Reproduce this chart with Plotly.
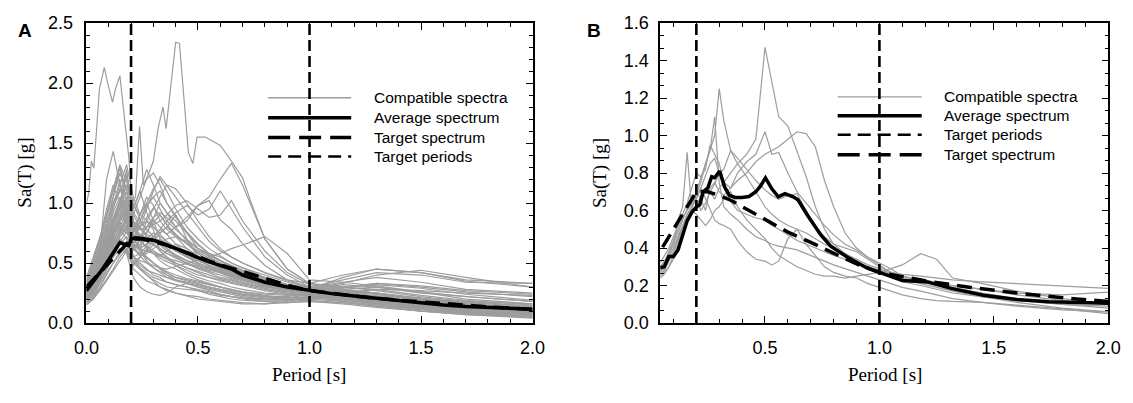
import plotly.graph_objects as go

# ---------------- panel A: compatible spectra on a common period grid
period_a = [0.0, 0.03, 0.06, 0.09, 0.12, 0.15, 0.18, 0.21, 0.24, 0.27, 0.30, 0.33, 0.36, 0.40,
            0.45, 0.50, 0.55, 0.60, 0.65, 0.70, 0.80, 0.90, 1.00, 1.15, 1.30, 1.50, 1.70, 2.00]

sa_a01 = [0.30, 0.38, 0.52, 0.80, 1.05, 1.30, 1.10, 0.75, 0.90, 1.00, 0.85, 0.70, 0.62, 0.55, 0.50, 0.45, 0.42, 0.38, 0.36, 0.33, 0.30, 0.27, 0.25, 0.20, 0.17, 0.13, 0.10, 0.08]
sa_a02 = [0.22, 0.35, 0.60, 1.20, 1.43, 1.15, 0.95, 0.60, 0.70, 0.85, 0.78, 0.60, 0.55, 0.48, 0.42, 0.38, 0.35, 0.33, 0.30, 0.28, 0.25, 0.24, 0.23, 0.18, 0.15, 0.12, 0.09, 0.07]
sa_a03 = [0.28, 0.40, 0.55, 0.70, 0.85, 0.95, 1.25, 0.90, 1.05, 1.20, 1.25, 1.15, 1.00, 0.90, 0.75, 0.62, 0.55, 0.50, 0.45, 0.40, 0.33, 0.29, 0.27, 0.24, 0.20, 0.16, 0.13, 0.10]
sa_a04 = [0.20, 0.25, 0.38, 0.48, 0.60, 0.72, 0.80, 0.55, 0.50, 0.45, 0.40, 0.38, 0.34, 0.32, 0.30, 0.27, 0.24, 0.22, 0.20, 0.19, 0.18, 0.17, 0.18, 0.17, 0.14, 0.10, 0.08, 0.05]
sa_a05 = [0.32, 0.45, 0.65, 0.90, 1.10, 1.30, 1.00, 0.70, 0.80, 0.95, 1.10, 1.22, 1.15, 1.05, 0.92, 0.80, 0.68, 0.60, 0.55, 0.50, 0.42, 0.36, 0.33, 0.28, 0.25, 0.20, 0.17, 0.14]
sa_a06 = [0.18, 0.22, 0.30, 0.42, 0.50, 0.58, 0.65, 0.45, 0.40, 0.35, 0.33, 0.30, 0.28, 0.25, 0.23, 0.22, 0.20, 0.19, 0.18, 0.17, 0.16, 0.17, 0.20, 0.22, 0.18, 0.13, 0.09, 0.06]
sa_a07 = [0.35, 0.50, 0.70, 0.95, 1.15, 1.00, 0.85, 0.95, 1.10, 0.92, 0.80, 0.75, 0.80, 0.90, 0.70, 0.55, 0.48, 0.42, 0.38, 0.35, 0.30, 0.28, 0.28, 0.32, 0.30, 0.25, 0.22, 0.18]
sa_a08 = [0.26, 0.33, 0.48, 0.62, 0.75, 0.90, 1.05, 0.85, 0.70, 0.62, 0.58, 0.52, 0.48, 0.45, 0.40, 0.36, 0.33, 0.30, 0.27, 0.25, 0.22, 0.21, 0.24, 0.28, 0.30, 0.26, 0.20, 0.16]
sa_a09 = [0.24, 0.30, 0.40, 0.55, 0.68, 0.80, 0.75, 0.70, 0.85, 0.98, 1.05, 0.95, 0.85, 0.78, 0.70, 0.62, 0.58, 0.55, 0.50, 0.46, 0.40, 0.34, 0.30, 0.36, 0.42, 0.40, 0.34, 0.33]
sa_a10 = [0.30, 0.42, 0.58, 0.75, 0.92, 1.05, 0.90, 0.65, 0.60, 0.55, 0.50, 0.45, 0.40, 0.36, 0.33, 0.30, 0.28, 0.26, 0.24, 0.22, 0.20, 0.19, 0.20, 0.18, 0.15, 0.11, 0.08, 0.06]
sa_a11 = [0.15, 0.20, 0.28, 0.36, 0.45, 0.55, 0.62, 0.50, 0.45, 0.40, 0.35, 0.30, 0.27, 0.25, 0.22, 0.20, 0.19, 0.18, 0.17, 0.16, 0.16, 0.18, 0.22, 0.20, 0.16, 0.12, 0.08, 0.05]
sa_a12 = [0.33, 0.48, 0.62, 0.85, 1.00, 1.15, 1.32, 1.05, 0.90, 1.00, 1.12, 1.20, 1.10, 0.95, 0.80, 0.70, 0.62, 0.56, 0.50, 0.46, 0.38, 0.32, 0.30, 0.34, 0.38, 0.34, 0.28, 0.25]
sa_a13 = [0.22, 0.28, 0.42, 0.55, 0.70, 0.68, 0.60, 0.50, 0.55, 0.60, 0.65, 0.70, 0.66, 0.60, 0.55, 0.50, 0.46, 0.42, 0.40, 0.37, 0.31, 0.27, 0.26, 0.24, 0.21, 0.17, 0.14, 0.11]
sa_a14 = [0.28, 0.38, 0.50, 0.72, 0.95, 1.20, 0.85, 0.55, 0.45, 0.40, 0.36, 0.33, 0.30, 0.29, 0.28, 0.27, 0.25, 0.23, 0.22, 0.21, 0.20, 0.20, 0.21, 0.19, 0.16, 0.12, 0.09, 0.07]
sa_a15 = [0.20, 0.27, 0.36, 0.50, 0.62, 0.75, 0.85, 0.70, 0.62, 0.75, 0.88, 1.00, 0.92, 0.80, 0.68, 0.58, 0.52, 0.48, 0.44, 0.41, 0.36, 0.31, 0.28, 0.30, 0.33, 0.30, 0.26, 0.22]
sa_a16 = [0.38, 0.55, 0.72, 0.88, 1.05, 1.25, 1.10, 0.80, 0.72, 0.68, 0.65, 0.62, 0.58, 0.55, 0.50, 0.47, 0.45, 0.43, 0.40, 0.38, 0.33, 0.29, 0.27, 0.25, 0.22, 0.18, 0.15, 0.12]
sa_a17 = [0.19, 0.24, 0.34, 0.45, 0.56, 0.66, 0.72, 0.62, 0.58, 0.54, 0.50, 0.46, 0.43, 0.40, 0.37, 0.35, 0.32, 0.30, 0.28, 0.26, 0.24, 0.23, 0.24, 0.23, 0.20, 0.15, 0.11, 0.08]
sa_a18 = [0.27, 0.36, 0.48, 0.62, 0.78, 0.88, 0.95, 0.80, 0.78, 0.80, 0.82, 0.85, 0.90, 0.98, 1.02, 0.95, 0.88, 0.90, 1.02, 0.85, 0.60, 0.42, 0.32, 0.30, 0.28, 0.23, 0.19, 0.15]
sa_a19 = [0.31, 0.44, 0.60, 0.78, 0.88, 0.95, 0.82, 0.62, 0.70, 0.80, 0.88, 0.92, 0.88, 0.80, 0.85, 0.98, 1.05, 1.20, 1.33, 1.15, 0.70, 0.45, 0.33, 0.30, 0.27, 0.22, 0.18, 0.14]
sa_a20 = [0.24, 0.32, 0.45, 0.58, 0.72, 0.82, 0.78, 0.65, 0.62, 0.66, 0.72, 0.78, 0.85, 0.92, 0.98, 0.90, 0.95, 1.10, 0.95, 0.80, 0.55, 0.40, 0.30, 0.28, 0.25, 0.20, 0.16, 0.12]
sa_a21 = [0.26, 0.34, 0.45, 0.58, 0.70, 0.78, 0.70, 0.55, 0.52, 0.50, 0.48, 0.46, 0.45, 0.47, 0.50, 0.52, 0.55, 0.58, 0.62, 0.65, 0.72, 0.58, 0.36, 0.34, 0.31, 0.26, 0.22, 0.18]
sa_a22 = [0.17, 0.21, 0.30, 0.40, 0.50, 0.60, 0.68, 0.55, 0.48, 0.44, 0.42, 0.40, 0.38, 0.35, 0.33, 0.31, 0.29, 0.27, 0.25, 0.23, 0.21, 0.20, 0.19, 0.17, 0.14, 0.10, 0.07, 0.04]
sa_a23 = [0.29, 0.40, 0.55, 0.70, 0.85, 1.00, 1.15, 0.95, 1.10, 1.28, 1.15, 1.00, 0.92, 0.85, 0.75, 0.65, 0.58, 0.52, 0.47, 0.43, 0.37, 0.32, 0.29, 0.33, 0.40, 0.44, 0.38, 0.30]
sa_a24 = [0.21, 0.26, 0.38, 0.50, 0.64, 0.76, 0.88, 0.72, 0.60, 0.52, 0.46, 0.42, 0.38, 0.36, 0.34, 0.32, 0.30, 0.28, 0.26, 0.24, 0.22, 0.21, 0.22, 0.25, 0.28, 0.27, 0.25, 0.23]
sa_a25 = [0.34, 0.48, 0.66, 0.82, 0.98, 1.12, 0.95, 0.75, 0.85, 0.98, 1.05, 1.10, 1.00, 0.88, 0.76, 0.66, 0.58, 0.52, 0.47, 0.42, 0.35, 0.30, 0.27, 0.25, 0.21, 0.16, 0.12, 0.09]
sa_a26 = [0.23, 0.29, 0.40, 0.52, 0.62, 0.70, 0.58, 0.38, 0.30, 0.26, 0.24, 0.23, 0.25, 0.30, 0.33, 0.30, 0.27, 0.24, 0.22, 0.20, 0.18, 0.17, 0.18, 0.16, 0.13, 0.10, 0.07, 0.05]
sa_a27 = [0.27, 0.35, 0.46, 0.60, 0.74, 0.85, 0.92, 0.78, 0.90, 1.05, 0.98, 0.85, 0.78, 0.72, 0.66, 0.60, 0.56, 0.52, 0.48, 0.44, 0.38, 0.32, 0.28, 0.38, 0.45, 0.42, 0.35, 0.30]
sa_a28 = [0.25, 0.31, 0.42, 0.55, 0.66, 0.74, 0.82, 0.68, 0.65, 0.70, 0.75, 0.72, 0.68, 0.62, 0.56, 0.50, 0.46, 0.42, 0.39, 0.36, 0.31, 0.27, 0.25, 0.23, 0.19, 0.15, 0.12, 0.09]
sa_a29 = [0.16, 0.20, 0.27, 0.35, 0.44, 0.52, 0.60, 0.52, 0.46, 0.42, 0.38, 0.36, 0.34, 0.32, 0.30, 0.28, 0.26, 0.24, 0.22, 0.21, 0.19, 0.19, 0.21, 0.22, 0.20, 0.16, 0.12, 0.09]
sa_a30 = [0.30, 0.40, 0.55, 0.68, 0.82, 0.95, 1.02, 0.85, 0.80, 0.85, 0.95, 1.05, 1.15, 1.12, 1.00, 0.85, 0.72, 0.62, 0.55, 0.50, 0.42, 0.35, 0.30, 0.26, 0.22, 0.17, 0.13, 0.10]
sa_a31 = [0.22, 0.30, 0.42, 0.56, 0.80, 1.00, 1.28, 0.85, 0.62, 0.55, 0.50, 0.46, 0.42, 0.38, 0.35, 0.33, 0.30, 0.28, 0.26, 0.24, 0.22, 0.22, 0.25, 0.27, 0.25, 0.20, 0.16, 0.13]
sa_a32 = [0.28, 0.37, 0.50, 0.66, 0.80, 0.92, 0.86, 0.72, 0.68, 0.64, 0.60, 0.56, 0.60, 0.66, 0.62, 0.56, 0.50, 0.46, 0.42, 0.38, 0.32, 0.28, 0.26, 0.24, 0.20, 0.16, 0.13, 0.10]
sa_a33 = [0.20, 0.25, 0.35, 0.45, 0.55, 0.62, 0.58, 0.48, 0.55, 0.62, 0.68, 0.75, 0.80, 0.74, 0.66, 0.58, 0.52, 0.47, 0.43, 0.40, 0.34, 0.29, 0.26, 0.22, 0.18, 0.14, 0.11, 0.08]
sa_a34 = [0.36, 0.52, 0.70, 0.92, 1.12, 1.32, 1.18, 0.90, 0.80, 0.72, 0.66, 0.60, 0.55, 0.50, 0.46, 0.42, 0.38, 0.35, 0.33, 0.31, 0.27, 0.24, 0.22, 0.20, 0.17, 0.13, 0.10, 0.08]
sa_a35 = [0.26, 0.36, 0.50, 0.68, 0.86, 1.02, 0.90, 0.66, 0.72, 0.80, 0.86, 0.80, 0.74, 0.80, 0.88, 0.98, 1.02, 0.86, 0.78, 0.66, 0.48, 0.36, 0.30, 0.27, 0.24, 0.19, 0.15, 0.11]
sa_a36 = [0.23, 0.31, 0.44, 0.60, 0.76, 0.88, 1.00, 0.78, 0.70, 0.76, 0.84, 0.90, 0.82, 0.72, 0.62, 0.54, 0.48, 0.44, 0.40, 0.37, 0.32, 0.28, 0.26, 0.29, 0.33, 0.31, 0.27, 0.24]
sa_a37 = [0.21, 0.28, 0.40, 0.52, 0.66, 0.80, 0.92, 0.80, 0.74, 0.70, 0.66, 0.62, 0.58, 0.54, 0.50, 0.46, 0.43, 0.40, 0.37, 0.34, 0.29, 0.25, 0.23, 0.21, 0.18, 0.14, 0.11, 0.08]
sa_a38 = [0.25, 0.34, 0.48, 0.64, 0.80, 0.96, 1.10, 0.92, 0.84, 0.78, 0.72, 0.68, 0.64, 0.60, 0.55, 0.50, 0.46, 0.43, 0.40, 0.37, 0.31, 0.27, 0.25, 0.23, 0.20, 0.16, 0.13, 0.10]
sa_a39 = [0.19, 0.26, 0.38, 0.50, 0.62, 0.72, 0.78, 0.66, 0.62, 0.66, 0.70, 0.66, 0.62, 0.57, 0.52, 0.48, 0.45, 0.42, 0.39, 0.36, 0.32, 0.28, 0.26, 0.26, 0.24, 0.20, 0.16, 0.12]
sa_a40 = [0.31, 0.42, 0.56, 0.72, 0.88, 1.02, 1.15, 0.98, 0.90, 0.86, 0.80, 0.74, 0.68, 0.62, 0.56, 0.52, 0.48, 0.44, 0.41, 0.38, 0.33, 0.29, 0.27, 0.24, 0.21, 0.17, 0.14, 0.11]
sa_a41 = [0.24, 0.32, 0.44, 0.58, 0.72, 0.84, 0.80, 0.62, 0.56, 0.58, 0.62, 0.66, 0.70, 0.72, 0.68, 0.62, 0.57, 0.52, 0.48, 0.44, 0.37, 0.31, 0.28, 0.27, 0.25, 0.21, 0.17, 0.14]
sa_a42 = [0.17, 0.23, 0.33, 0.44, 0.56, 0.68, 0.76, 0.64, 0.56, 0.50, 0.46, 0.43, 0.40, 0.38, 0.36, 0.34, 0.32, 0.30, 0.28, 0.26, 0.23, 0.21, 0.21, 0.20, 0.17, 0.13, 0.10, 0.07]
sa_a43 = [0.29, 0.38, 0.52, 0.68, 0.84, 1.00, 0.94, 0.76, 0.80, 0.88, 0.96, 0.90, 0.82, 0.74, 0.66, 0.59, 0.54, 0.50, 0.46, 0.42, 0.36, 0.31, 0.28, 0.30, 0.32, 0.29, 0.24, 0.19]
sa_a44 = [0.22, 0.29, 0.40, 0.54, 0.68, 0.78, 0.86, 0.74, 0.68, 0.64, 0.60, 0.57, 0.54, 0.52, 0.49, 0.46, 0.44, 0.42, 0.40, 0.38, 0.34, 0.30, 0.27, 0.24, 0.20, 0.16, 0.12, 0.09]
sa_a45 = [0.27, 0.36, 0.50, 0.65, 0.78, 0.88, 0.82, 0.66, 0.62, 0.60, 0.58, 0.56, 0.53, 0.50, 0.46, 0.43, 0.40, 0.37, 0.35, 0.33, 0.29, 0.26, 0.24, 0.22, 0.19, 0.15, 0.12, 0.10]
sa_a46 = [0.33, 0.46, 0.62, 0.80, 0.96, 1.10, 1.22, 1.00, 0.86, 0.78, 0.72, 0.68, 0.66, 0.64, 0.60, 0.55, 0.50, 0.46, 0.42, 0.39, 0.34, 0.30, 0.28, 0.27, 0.24, 0.19, 0.15, 0.12]
sa_a47 = [0.20, 0.26, 0.36, 0.48, 0.60, 0.70, 0.66, 0.55, 0.58, 0.64, 0.72, 0.78, 0.74, 0.66, 0.58, 0.52, 0.48, 0.45, 0.42, 0.39, 0.33, 0.28, 0.25, 0.22, 0.18, 0.14, 0.11, 0.09]
sa_a48 = [0.26, 0.34, 0.46, 0.60, 0.74, 0.86, 0.96, 0.84, 0.78, 0.74, 0.70, 0.65, 0.60, 0.56, 0.52, 0.49, 0.47, 0.45, 0.42, 0.40, 0.35, 0.30, 0.27, 0.25, 0.23, 0.20, 0.18, 0.16]

compatible_a = [sa_a01, sa_a02, sa_a03, sa_a04, sa_a05, sa_a06, sa_a07, sa_a08, sa_a09,
                sa_a10, sa_a11, sa_a12, sa_a13, sa_a14, sa_a15, sa_a16, sa_a17, sa_a18,
                sa_a19, sa_a20, sa_a21, sa_a22, sa_a23, sa_a24, sa_a25, sa_a26, sa_a27,
                sa_a28, sa_a29, sa_a30, sa_a31, sa_a32, sa_a33, sa_a34, sa_a35, sa_a36,
                sa_a37, sa_a38, sa_a39, sa_a40, sa_a41, sa_a42, sa_a43, sa_a44, sa_a45,
                sa_a46, sa_a47, sa_a48]

# two outlier records with their own (finer) period sampling
period_h1 = [0.0, 0.01, 0.022, 0.033, 0.045, 0.058, 0.07, 0.08, 0.095, 0.117, 0.13, 0.15, 0.165,
             0.19, 0.21, 0.24, 0.27, 0.30, 0.35, 0.40, 0.45, 0.50, 0.60, 0.70, 0.80, 0.90, 1.00,
             1.20, 1.40, 1.60, 1.80, 2.00]
sa_h1 = [1.00, 1.08, 1.35, 1.29, 1.60, 1.95, 2.05, 2.13, 2.00, 1.84, 1.95, 2.06, 1.80,
         1.38, 0.85, 0.70, 0.62, 0.58, 0.52, 0.48, 0.44, 0.40, 0.36, 0.32, 0.28, 0.25, 0.23,
         0.20, 0.17, 0.14, 0.11, 0.09]
period_h2 = [0.0, 0.05, 0.10, 0.15, 0.20, 0.22, 0.238, 0.255, 0.28, 0.30, 0.321, 0.343, 0.357,
             0.38, 0.40, 0.417, 0.44, 0.457, 0.477, 0.496, 0.533, 0.60, 0.65, 0.70, 0.737, 0.80,
             0.90, 1.00, 1.15, 1.30, 1.50, 1.70, 2.00]
sa_h2 = [0.30, 0.42, 0.62, 0.85, 1.00, 1.05, 1.64, 1.15, 1.25, 1.35, 1.62, 1.80, 1.62,
         2.00, 2.34, 2.33, 1.80, 1.42, 1.33, 1.55, 1.55, 1.48, 1.35, 1.21, 1.01, 0.70,
         0.45, 0.33, 0.40, 0.45, 0.42, 0.36, 0.33]

period_avg_a = [0.0, 0.03, 0.06, 0.09, 0.12, 0.15, 0.17, 0.19, 0.20, 0.22, 0.25, 0.30, 0.35, 0.40,
                0.45, 0.50, 0.55, 0.60, 0.65, 0.70, 0.75, 0.80, 0.90, 1.00, 1.10, 1.20, 1.30,
                1.40, 1.50, 1.60, 1.70, 1.80, 1.90, 2.00]
sa_avg_a = [0.27, 0.34, 0.42, 0.50, 0.59, 0.67, 0.655, 0.645, 0.70, 0.71, 0.705, 0.69, 0.66, 0.62,
            0.58, 0.545, 0.51, 0.48, 0.45, 0.40, 0.37, 0.34, 0.30, 0.27, 0.245, 0.225, 0.205,
            0.185, 0.165, 0.15, 0.137, 0.128, 0.12, 0.115]

period_target = [0.0, 0.05, 0.10, 0.15, 0.20, 0.25, 0.30, 0.35, 0.40, 0.50, 0.60, 0.70, 0.80,
                 0.90, 1.00, 1.20, 1.40, 1.60, 1.80, 2.00]
sa_target = [0.30, 0.40, 0.50, 0.60, 0.70, 0.70, 0.68, 0.655, 0.62, 0.55, 0.485, 0.43, 0.37,
             0.315, 0.27, 0.225, 0.19, 0.16, 0.135, 0.115]

target_periods = [0.2, 1.0]

# ---------------- panel B: 9 compatible spectra
period_b = [0.042, 0.06, 0.08, 0.10, 0.12, 0.14, 0.16, 0.18, 0.20, 0.22, 0.24, 0.26, 0.28, 0.30,
            0.32, 0.35, 0.38, 0.42, 0.46, 0.50, 0.53, 0.56, 0.60, 0.64, 0.68, 0.72, 0.76, 0.80,
            0.85, 0.90, 0.95, 1.00, 1.05, 1.10, 1.18, 1.25, 1.32, 1.45, 1.60, 1.80, 2.00]

sa_b1 = [0.30, 0.32, 0.38, 0.42, 0.48, 0.55, 0.62, 0.68, 0.66, 0.60, 0.64, 0.70, 0.66, 0.72, 0.75, 0.80, 0.85, 0.90, 0.98, 1.47, 1.28, 1.10, 1.05, 0.92, 0.78, 0.62, 0.50, 0.42, 0.37, 0.33, 0.30, 0.28, 0.25, 0.22, 0.20, 0.18, 0.16, 0.14, 0.12, 0.10, 0.09]
sa_b2 = [0.28, 0.30, 0.35, 0.40, 0.46, 0.52, 0.58, 0.62, 0.68, 0.75, 0.85, 0.92, 1.00, 1.25, 1.08, 0.92, 0.85, 0.78, 0.70, 0.62, 0.58, 0.55, 0.52, 0.50, 0.48, 0.45, 0.42, 0.40, 0.37, 0.34, 0.31, 0.29, 0.26, 0.24, 0.22, 0.21, 0.20, 0.18, 0.15, 0.12, 0.10]
sa_b3 = [0.26, 0.28, 0.33, 0.38, 0.44, 0.50, 0.56, 0.62, 0.70, 0.78, 0.85, 0.92, 1.10, 0.75, 0.62, 0.58, 0.55, 0.50, 0.46, 0.44, 0.42, 0.41, 0.40, 0.39, 0.37, 0.35, 0.33, 0.31, 0.29, 0.27, 0.25, 0.23, 0.21, 0.19, 0.17, 0.15, 0.13, 0.11, 0.09, 0.07, 0.06]
sa_b4 = [0.30, 0.33, 0.38, 0.44, 0.50, 0.56, 0.60, 0.64, 0.70, 0.66, 0.60, 0.72, 0.75, 0.70, 0.68, 0.72, 0.76, 0.80, 0.86, 0.90, 0.92, 0.94, 0.98, 1.02, 1.01, 0.94, 0.76, 0.62, 0.48, 0.40, 0.35, 0.31, 0.27, 0.24, 0.21, 0.19, 0.17, 0.14, 0.11, 0.08, 0.06]
sa_b5 = [0.32, 0.36, 0.40, 0.46, 0.52, 0.58, 0.64, 0.72, 0.80, 0.78, 0.82, 0.95, 0.90, 0.85, 0.75, 0.72, 0.80, 0.86, 0.90, 1.02, 0.90, 0.91, 0.80, 0.70, 0.64, 0.58, 0.52, 0.47, 0.42, 0.39, 0.35, 0.32, 0.29, 0.25, 0.22, 0.20, 0.19, 0.16, 0.13, 0.10, 0.08]
sa_b6 = [0.27, 0.29, 0.34, 0.38, 0.45, 0.52, 0.58, 0.62, 0.66, 0.72, 0.78, 0.85, 0.88, 0.80, 0.82, 0.92, 0.88, 0.82, 0.76, 0.71, 0.68, 0.66, 0.68, 0.69, 0.60, 0.52, 0.46, 0.42, 0.40, 0.38, 0.34, 0.30, 0.27, 0.25, 0.23, 0.21, 0.20, 0.18, 0.16, 0.15, 0.165]
sa_b7 = [0.25, 0.27, 0.30, 0.34, 0.40, 0.47, 0.55, 0.62, 0.68, 0.72, 0.66, 0.60, 0.55, 0.53, 0.52, 0.50, 0.44, 0.38, 0.34, 0.33, 0.31, 0.33, 0.45, 0.50, 0.42, 0.36, 0.30, 0.27, 0.25, 0.24, 0.21, 0.19, 0.17, 0.15, 0.13, 0.12, 0.115, 0.11, 0.095, 0.075, 0.05]
sa_b8 = [0.28, 0.31, 0.36, 0.42, 0.55, 0.62, 0.91, 0.60, 0.62, 0.68, 0.72, 0.70, 0.74, 0.80, 0.72, 0.65, 0.60, 0.58, 0.56, 0.55, 0.52, 0.50, 0.47, 0.44, 0.42, 0.40, 0.38, 0.36, 0.34, 0.32, 0.30, 0.28, 0.27, 0.26, 0.25, 0.24, 0.23, 0.22, 0.21, 0.20, 0.185]
sa_b9 = [0.24, 0.26, 0.30, 0.36, 0.42, 0.50, 0.56, 0.60, 0.58, 0.55, 0.52, 0.55, 0.60, 0.62, 0.66, 0.70, 0.62, 0.55, 0.50, 0.45, 0.40, 0.36, 0.33, 0.30, 0.28, 0.26, 0.25, 0.25, 0.24, 0.25, 0.26, 0.27, 0.29, 0.31, 0.37, 0.34, 0.24, 0.21, 0.17, 0.13, 0.10]

compatible_b = [sa_b1, sa_b2, sa_b3, sa_b4, sa_b5, sa_b6, sa_b7, sa_b8, sa_b9]

period_avg_b = [0.042, 0.06, 0.08, 0.10, 0.12, 0.14, 0.16, 0.18, 0.20, 0.215, 0.23, 0.25, 0.267,
                0.28, 0.302, 0.324, 0.345, 0.37, 0.40, 0.43, 0.46, 0.48, 0.502, 0.53, 0.558,
                0.587, 0.623, 0.644, 0.687, 0.744, 0.787, 0.857, 0.943, 1.00, 1.057, 1.10,
                1.213, 1.313, 1.455, 1.60, 1.74, 1.91, 2.00]
sa_avg_b = [0.295, 0.30, 0.355, 0.355, 0.39, 0.47, 0.545, 0.59, 0.62, 0.63, 0.70, 0.72, 0.78,
            0.775, 0.81, 0.725, 0.68, 0.67, 0.67, 0.675, 0.70, 0.73, 0.774, 0.716, 0.673,
            0.69, 0.673, 0.657, 0.572, 0.47, 0.41, 0.354, 0.295, 0.27, 0.244, 0.227,
            0.219, 0.185, 0.148, 0.126, 0.113, 0.108, 0.105]

# the page body has an 8 px margin, so the figure is made 8 px smaller and
# screen positions are shifted back by that amount
OFF = 8
W, H = 1133 - OFF, 403 - OFF
GRAY = "#9d9d9d"


def px(x):
    return (x - OFF) / W


def py(y):
    return 1 - (y - OFF) / H


fig = go.Figure()

# panel A
for sa in compatible_a:
    fig.add_trace(go.Scatter(x=period_a, y=sa, mode="lines", xaxis="x", yaxis="y",
                             line=dict(color=GRAY, width=1.2), hoverinfo="skip"))
for t, sa in [(period_h1, sa_h1), (period_h2, sa_h2)]:
    fig.add_trace(go.Scatter(x=t, y=sa, mode="lines", xaxis="x", yaxis="y",
                             line=dict(color=GRAY, width=1.2), hoverinfo="skip"))
fig.add_trace(go.Scatter(x=period_avg_a, y=sa_avg_a, mode="lines", xaxis="x", yaxis="y",
                         line=dict(color="black", width=3.5)))
fig.add_trace(go.Scatter(x=period_target, y=sa_target, mode="lines", xaxis="x", yaxis="y",
                         line=dict(color="black", width=3.5, dash="15px,8px")))

# panel B
for sa in compatible_b:
    fig.add_trace(go.Scatter(x=period_b, y=sa, mode="lines", xaxis="x2", yaxis="y2",
                             line=dict(color=GRAY, width=1.2), hoverinfo="skip"))
fig.add_trace(go.Scatter(x=period_avg_b, y=sa_avg_b, mode="lines", xaxis="x2", yaxis="y2",
                         line=dict(color="black", width=3.5)))
fig.add_trace(go.Scatter(x=period_target, y=sa_target, mode="lines", xaxis="x2", yaxis="y2",
                         line=dict(color="black", width=3.5, dash="15px,8px")))

# hand-made legends (sample lines drawn first so the period lines cross them)
legend_a = [("Compatible spectra", dict(color=GRAY, width=1.3)),
            ("Average spectrum", dict(color="black", width=3.5)),
            ("Target spectrum", dict(color="black", width=3.5, dash="22px,9px")),
            ("Target periods", dict(color="black", width=2.5, dash="13px,7px"))]
legend_b = [("Compatible spectra", dict(color=GRAY, width=1.3)),
            ("Average spectrum", dict(color="black", width=3.5)),
            ("Target periods", dict(color="black", width=2.5, dash="13px,7px")),
            ("Target spectrum", dict(color="black", width=3.5, dash="22px,9px"))]

annotations = []
for items, x0, x1, xt, rows in [(legend_a, 261, 346, 367, [92, 113, 134, 154]),
                                (legend_b, 844, 930, 951, [91, 111, 131, 152])]:
    for (label, line), y in zip(items, rows):
        fig.add_shape(type="line", xref="paper", yref="paper",
                      x0=px(x0), x1=px(x1), y0=py(y), y1=py(y), line=line)
        annotations.append(dict(text=label, x=px(xt), y=py(y), xref="paper", yref="paper",
                                xanchor="left", yanchor="middle", showarrow=False,
                                font=dict(family="Liberation Sans, Arial", size=15.5,
                                          color="black")))

for t in target_periods:
    for xr, yr in [("x", "y domain"), ("x2", "y2 domain")]:
        fig.add_shape(type="line", xref=xr, yref=yr, x0=t, x1=t, y0=0, y1=1,
                      line=dict(color="black", width=2.6, dash="11px,5px"))

# axis titles and panel letters
serif = dict(family="Liberation Serif, Times New Roman", size=19, color="black")
for xc, yc in [(303, 383), (892, 383)]:
    annotations.append(dict(text="Period [s]", x=px(xc), y=py(yc), xref="paper", yref="paper",
                            xanchor="center", yanchor="middle", showarrow=False, font=serif))
for xc, yc in [(12, 171), (600, 171)]:
    annotations.append(dict(text="Sa(T) [g]", x=px(xc), y=py(yc), xref="paper", yref="paper",
                            xanchor="center", yanchor="middle", showarrow=False,
                            textangle=-90, font=serif))
for text, xc, yc in [("A", 12, 21), ("B", 595, 21)]:
    annotations.append(dict(text="<b>%s</b>" % text, x=px(xc), y=py(yc), xref="paper",
                            yref="paper", xanchor="center", yanchor="middle", showarrow=False,
                            borderpad=0,
                            font=dict(family="Liberation Sans, Arial", size=19, color="black")))

axis_common = dict(showline=True, linecolor="black", linewidth=1.5, mirror="ticks",
                   ticks="inside", ticklen=7, tickwidth=1.4, tickcolor="black",
                   showgrid=False, zeroline=False, tickformat=".1f",
                   ticklabeloverflow="allow",
                   tickfont=dict(family="Liberation Sans, Arial", size=18, color="black"))
minor_common = dict(ticks="inside", ticklen=4, tickcolor="black", tickwidth=1.2)

ydom = [py(329.3), py(13.3)]
fig.update_layout(
    width=W, height=H, margin=dict(l=0, r=0, t=0, b=0),
    paper_bgcolor="white", plot_bgcolor="white", showlegend=False,
    xaxis=dict(domain=[px(75), px(531.7)], range=[0, 2], dtick=0.5, tick0=0,
               anchor="y", ticklabelstandoff=8, minor=dict(dtick=0.1, **minor_common),
               **axis_common),
    yaxis=dict(domain=ydom, range=[0, 2.5], dtick=0.5, tick0=0, anchor="x",
               ticklabelstandoff=8, minor=dict(dtick=0.1, **minor_common),
               **axis_common),
    xaxis2=dict(domain=[px(662.3), px(1121)], range=[0.042, 2], dtick=0.5, tick0=0,
                anchor="y2", ticklabelstandoff=8, minor=dict(dtick=0.1, **minor_common),
                **axis_common),
    yaxis2=dict(domain=ydom, range=[0, 1.6], dtick=0.2, tick0=0, anchor="x2",
                ticklabelstandoff=6, minor=dict(dtick=0.2 / 3, **minor_common),
                **axis_common),
    annotations=annotations,
)

fig.write_html("out.html")
